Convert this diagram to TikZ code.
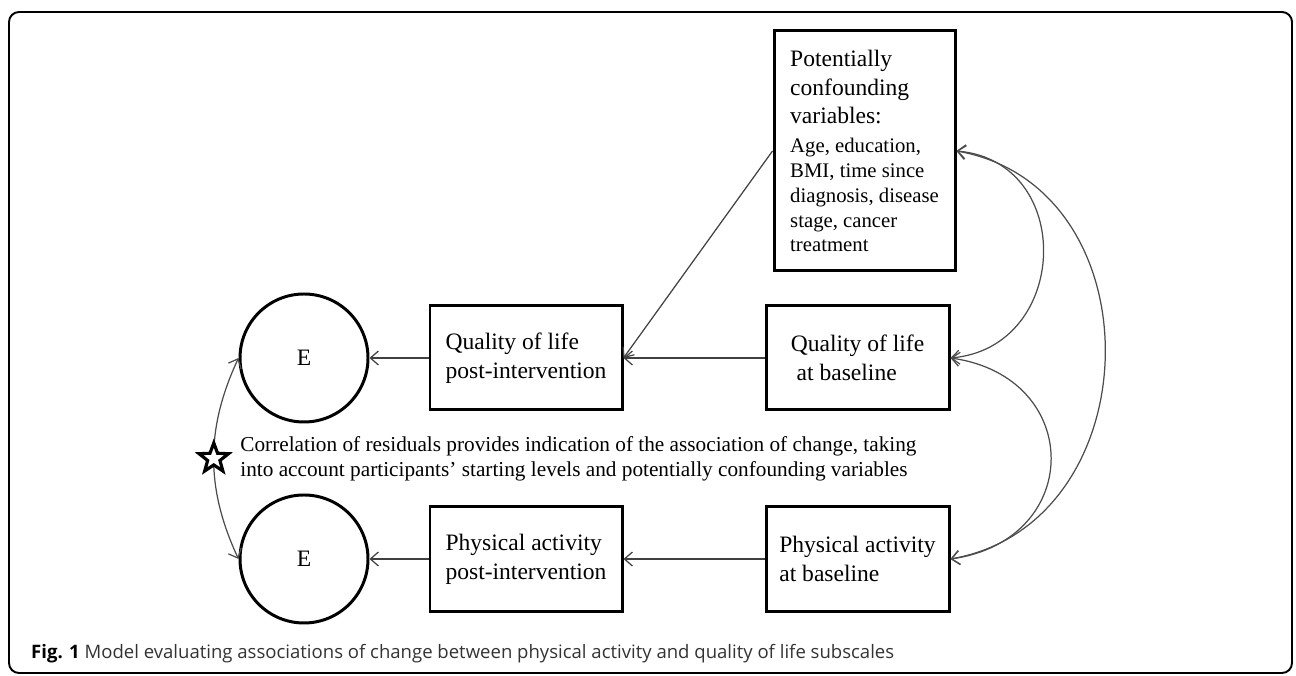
\documentclass[tikz,border=0pt]{standalone}
\usepackage{fontspec}
\setmainfont{Liberation Serif}
\newfontfamily\capfont{Open Sans}
\usetikzlibrary{arrows.meta,shapes.geometric,positioning}

\begin{document}
\begin{tikzpicture}[
    >={Straight Barb[length=1.6mm,width=2.8mm]},
    box/.style={draw, line width=1.7pt, align=left, font=\fontsize{13.4}{16.4}\selectfont},
    err/.style={draw, circle, line width=1.7pt, minimum size=2.56cm, font=\fontsize{13.4}{16}\selectfont},
    oneway/.style={->, line width=0.7pt, black!75},
    twoway/.style={<->, line width=0.7pt, black!70},
    starmark/.style={star, star points=5, star point ratio=2.4, draw=black, fill=white, line width=1.8pt, minimum size=0.62cm, inner sep=0pt},
    note/.style={align=left, inner sep=0pt, font=\fontsize{12.1}{14.2}\selectfont}
  ]
    \useasboundingbox (0,0) rectangle (25.92,13.52);
    \draw [line width=1.1pt, rounded corners=0.2cm] (0.18,0.06) rectangle (25.84,13.28);

    % boxes
    \node [box, minimum width=3.62cm, minimum height=4.8cm] (conf) at (17.29,10.5)
      {Potentially\\confounding\\variables:\\{\fontsize{11.8}{14.2}\selectfont Age, education,}\\[-2.3pt]{\fontsize{11.8}{14.2}\selectfont BMI, time since}\\[-2.3pt]{\fontsize{11.8}{14.2}\selectfont diagnosis, disease}\\[-2.3pt]{\fontsize{11.8}{14.2}\selectfont stage, cancer}\\[-2.3pt]{\fontsize{11.8}{14.2}\selectfont treatment}};
    \node [box, minimum width=3.84cm, minimum height=2.08cm] (qolpost) at (10.52,6.36) {Quality of life\\post-intervention};
    \node [box, minimum width=3.66cm, minimum height=2.08cm] (qolbase) at (17.15,6.36) {Quality of life\\\ at baseline};
    \node [box, minimum width=3.84cm, minimum height=2.1cm] (papost) at (10.52,2.34) {Physical activity\\post-intervention};
    \node [box, minimum width=3.66cm, minimum height=2.1cm] (pabase) at (17.15,2.34) {Physical activity\\at baseline};

    % residuals
    \node [err] (eq) at (6.08,6.36) {E};
    \node [err] (ep) at (6.08,2.34) {E};

    \draw [oneway] (qolbase) -- (qolpost);
    \draw [oneway] (qolpost) -- (eq);
    \draw [oneway] (pabase) -- (papost);
    \draw [oneway] (papost) -- (ep);
    \draw [oneway] (conf.west) -- (qolpost.east);

    \draw [twoway] (conf.east) to[out=-5, in=5, distance=2.4cm] (qolbase.east);
    \draw [twoway] (qolbase.east) to[out=-8, in=8, distance=2.7cm] (pabase.east);
    \draw [twoway] (conf.east) to[out=-10, in=10, distance=4.1cm] (pabase.east);
    \draw [twoway] (eq.west) to[out=-115, in=115, distance=1.56cm] node [starmark] (star) {} (ep.west);

    \node [note, right=0.3cm of star] (corr) {Correlation of residuals provides indication of the association of change, taking\\into account participants’ starting levels and potentially confounding variables};

    \node [anchor=west, font=\capfont\fontsize{10.55}{12}\selectfont, text=black!80] (cap) at (0.5,0.44)
      {\textbf{\color{black}Fig. 1} Model evaluating associations of change between physical activity and quality of life subscales};
  \end{tikzpicture}
\end{document}
